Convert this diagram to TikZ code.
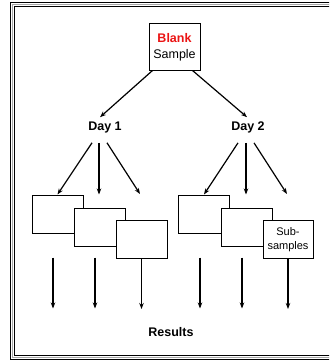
\documentclass[tikz,border=0pt]{standalone}
\usepackage{fontspec}
\setmainfont{Liberation Sans}
\usetikzlibrary{arrows.meta}
\definecolor{blankred}{RGB}{235,20,20}
\begin{document}
\begin{tikzpicture}[x=1pt,y=-1pt,
  lbl/.style={font=\fontsize{12.5}{14}\selectfont\bfseries, inner sep=2pt},
  subbox/.style={draw, line width=1pt, fill=white, minimum width=51pt, minimum height=38pt, inner sep=0pt},
  arr/.style={line width=1.2pt, -{Stealth[length=6pt,width=4.5pt]}},
  frameline/.style={line width=1.3pt}]
\useasboundingbox (0,0) rectangle (329,361);
\clip (0,0) rectangle (329,361);
% frame
\draw[frameline, black] (10.5,2.5) rectangle (345,359.5);
\draw[frameline, gray!70] (12.5,4.6) rectangle (343,357.4);
\draw[frameline, black] (14.6,6.7) rectangle (341,355.3);
% top box
\node[draw, line width=1pt, fill=white, minimum width=51pt, minimum height=46pt, inner sep=0pt, align=center,
      font=\fontsize{12.5}{16}\selectfont] (top) at (174.5,47)
  {{\color{blankred}\bfseries Blank}\\Sample};
% days
\node[lbl] (day1) at (105,127) {Day 1};
\node[lbl] (day2) at (248,127) {Day 2};
\draw[arr] ([xshift=4]top.south west) -- ([xshift=-5,yshift=2]day1.north);
\draw[arr] ([xshift=-8]top.south east) -- ([xshift=-1,yshift=2]day2.north);
% day 1 sub-sample boxes
\node[subbox] (a1) at (57.5,214) {};
\node[subbox] (a2) at (99.5,227) {};
\node[subbox] (a3) at (141.5,239.5) {};
% day 2 sub-sample boxes
\node[subbox] (b1) at (204,214) {};
\node[subbox] (b2) at (246.5,227) {};
\node[subbox, minimum width=50pt, align=center, font=\fontsize{11}{14}\selectfont] (b3) at (288,239.5) {Sub-\\samples};
% day 1 branches
\draw[arr] ([xshift=-13,yshift=-8]day1.south) -- (a1.north);
\draw[arr] ([xshift=-6,yshift=-8]day1.south) -- ([xshift=-0.5,yshift=13]a2.north);
\draw[arr] ([xshift=2,yshift=-8]day1.south) -- ([xshift=-1.5,yshift=26]a3.north);
% day 2 branches
\draw[arr] ([xshift=-10,yshift=-8]day2.south) -- (b1.north);
\draw[arr] ([xshift=-2,yshift=-8]day2.south) -- ([xshift=-0.5,yshift=13]b2.north);
\draw[arr] ([xshift=6,yshift=-8]day2.south) -- ([xshift=-1,yshift=26]b3.north);
% results
\node[lbl] (res) at (171,332) {Results};
\draw[arr] ([xshift=-4.5,yshift=-24]a1.south) -- ([xshift=-4.5,yshift=-75]a1.south);
\draw[arr] ([xshift=-4.5,yshift=-11]a2.south) -- ([xshift=-4.5,yshift=-62]a2.south);
\draw[arr] (a3.south) -- ([yshift=-50]a3.south);
\draw[arr] ([xshift=-4,yshift=-24]b1.south) -- ([xshift=-4,yshift=-75]b1.south);
\draw[arr] ([xshift=-4.5,yshift=-11]b2.south) -- ([xshift=-4.5,yshift=-62]b2.south);
\draw[arr] (b3.south) -- ([yshift=-50]b3.south);
\end{tikzpicture}
\end{document}
